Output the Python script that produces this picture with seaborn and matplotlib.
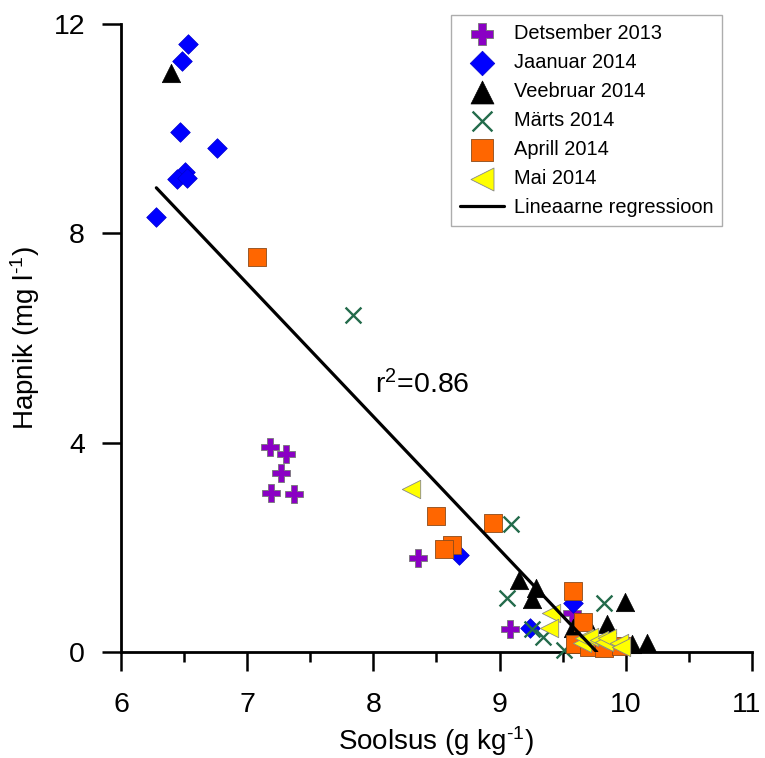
import numpy as np
import pandas as pd
import matplotlib
matplotlib.use("Agg")
import matplotlib.pyplot as plt
import matplotlib.transforms as mtransforms
import seaborn as sns

# ---- data ----
months = ["Detsember 2013", "Jaanuar 2014", "Veebruar 2014", "Märts 2014", "Aprill 2014", "Mai 2014"]

dec_x = [7.18, 7.31, 7.27, 7.19, 7.37, 8.35, 9.08, 9.57]
dec_y = [3.92, 3.78, 3.42, 3.04, 3.02, 1.80, 0.44, 0.75]

jan_x = [6.53, 6.48, 6.47, 6.76, 6.51, 6.44, 6.52, 6.28, 8.68, 9.24, 9.58]
jan_y = [11.62, 11.29, 9.94, 9.63, 9.17, 9.04, 9.06, 8.31, 1.85, 0.46, 0.94]

feb_x = [6.40, 9.15, 9.29, 9.26, 9.99, 9.85, 9.58, 9.73, 10.05, 10.17]
feb_y = [11.06, 1.38, 1.22, 1.01, 0.96, 0.54, 0.46, 0.36, 0.15, 0.18]

mar_x = [7.84, 9.09, 9.06, 9.83, 9.26, 9.34, 9.51]
mar_y = [6.44, 2.45, 1.03, 0.94, 0.44, 0.28, 0.04]

apr_x = [7.08, 8.50, 8.95, 8.62, 8.56, 9.58, 9.66, 9.60, 9.71, 9.83, 9.96]
apr_y = [7.55, 2.60, 2.47, 2.05, 1.97, 1.17, 0.58, 0.15, 0.10, 0.08, 0.12]

may_x = [8.30, 9.41, 9.39, 9.65, 9.67, 9.71, 9.79, 9.83, 9.85, 9.95, 9.96]
may_y = [3.11, 0.74, 0.46, 0.17, 0.27, 0.29, 0.23, 0.19, 0.27, 0.17, 0.10]

reg_x = [6.28, 9.77]
reg_y = [8.87, 0.0]
r2_label = "r$^{2}$=0.86"

x_ticks = [6, 7, 8, 9, 10, 11]
y_ticks = [0, 4, 8, 12]

series_x = [dec_x, jan_x, feb_x, mar_x, apr_x, may_x]
series_y = [dec_y, jan_y, feb_y, mar_y, apr_y, may_y]
frames = []
for m, xs, ys in zip(months, series_x, series_y):
    frames.append(pd.DataFrame({"Soolsus": xs, "Hapnik": ys, "Kuu": m}))
df = pd.concat(frames, ignore_index=True)

# ---- style ----
sns.set_style("ticks")
plt.rcParams["font.family"] = ["Liberation Sans", "DejaVu Sans"]
plt.rcParams["mathtext.fontset"] = "custom"
plt.rcParams["mathtext.rm"] = "Liberation Sans"
plt.rcParams["mathtext.it"] = "Liberation Sans:italic"
plt.rcParams["mathtext.bf"] = "Liberation Sans:bold"
for k in ["text.color", "axes.labelcolor", "xtick.color", "ytick.color", "axes.edgecolor"]:
    plt.rcParams[k] = "black"

styles = {
    "Detsember 2013": dict(marker="P", color="#8A00C4", s=155, edgecolor="#777777", linewidth=0.6),
    "Jaanuar 2014": dict(marker="D", color="#0000FF", s=100, edgecolor="#0000CC", linewidth=0.5),
    "Veebruar 2014": dict(marker="^", color="#000000", s=175, edgecolor="#000000", linewidth=0.5),
    "Märts 2014": dict(marker="x", color="#236B4B", s=130, linewidth=1.7),
    "Aprill 2014": dict(marker="s", color="#FF6600", s=170, edgecolor="#8A4A1A", linewidth=0.6),
    "Mai 2014": dict(marker="<", color="#FFFF00", s=175, edgecolor="#888888", linewidth=0.6),
}

fig = plt.figure(figsize=(7.65, 7.58), dpi=100)
ax = fig.add_axes([121 / 765, 1 - 652 / 758, (752 - 121) / 765, (652 - 24) / 758])

for i, m in enumerate(months):
    sub = df[df["Kuu"] == m]
    sns.scatterplot(data=sub, x="Soolsus", y="Hapnik", ax=ax, label=m,
                    zorder=3 + i, clip_on=False, **styles[m])

sns.lineplot(x=reg_x, y=reg_y, ax=ax, color="black", linewidth=2.3,
             label="Lineaarne regressioon", zorder=20)

ax.text(8.01, 5.10, r2_label, fontsize=20.5, ha="left", va="center")

ax.set_xlim(x_ticks[0], x_ticks[-1])
ax.set_ylim(y_ticks[0], y_ticks[-1])
ax.set_xticks(x_ticks)
ax.set_xticks(np.arange(6.5, 11, 1.0), minor=True)
ax.set_yticks(y_ticks)
ax.tick_params(axis="both", which="major", direction="out", length=14, width=1.8,
               labelsize=20.5, color="black")
ax.tick_params(axis="x", which="major", pad=15)
ax.tick_params(axis="y", which="major", pad=12)
ax.tick_params(axis="x", which="minor", direction="out", length=7, width=1.8, color="black")
for side in ["top", "right"]:
    ax.spines[side].set_visible(False)
for side in ["left", "bottom"]:
    ax.spines[side].set_linewidth(2.0)
    ax.spines[side].set_color("black")

# nudge the last x tick label slightly left so it stays inside the figure
last = ax.xaxis.get_major_ticks()[-1].label1
last.set_transform(last.get_transform() +
                   mtransforms.ScaledTranslation(-5 / 100, 0, fig.dpi_scale_trans))

ax.set_xlabel(r"Soolsus (g kg$^{\text{-1}}$)", fontsize=20, labelpad=4)
ax.set_ylabel(r"Hapnik (mg l$^{\text{-1}}$)", fontsize=20, labelpad=8)

handles, labels = ax.get_legend_handles_labels()
leg = ax.legend(handles, labels, loc="upper right", bbox_to_anchor=(0.9525, 1.014),
                borderaxespad=0, frameon=True, fancybox=False, fontsize=14.4,
                handlelength=2.2, handletextpad=0.5, labelspacing=0.5,
                borderpad=0.45, markerscale=1.25)
leg.get_frame().set_edgecolor("#999999")
leg.get_frame().set_linewidth(1.0)
leg.set_zorder(30)

fig.savefig("out.png", dpi=100)
